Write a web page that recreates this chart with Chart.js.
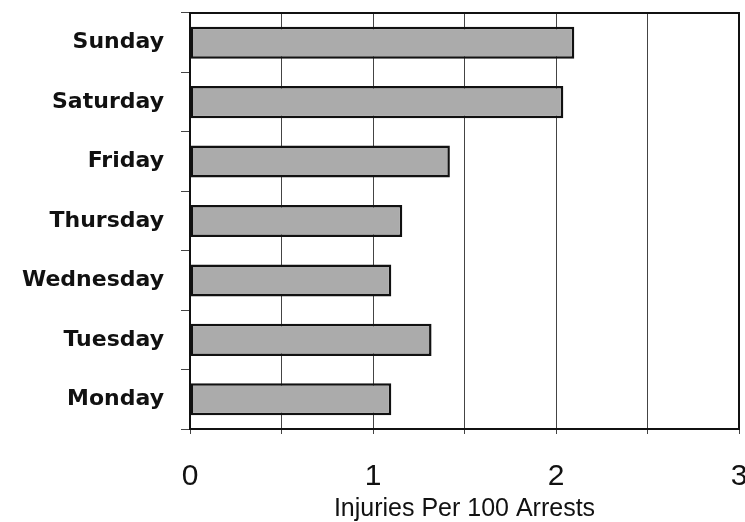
<!DOCTYPE html>
<html>
<head>
<meta charset="utf-8">
<script src="https://cdn.jsdelivr.net/npm/chart.js@4"></script>
<style>
  html, body { margin: 0; padding: 0; background: #fff; }
  #wrap { width: 745px; height: 522px; }
</style>
</head>
<body>
<div id="wrap"><canvas id="bars"></canvas></div>
<script>
// days, top to bottom as in the picture
const days = ['Sunday', 'Saturday', 'Friday', 'Thursday', 'Wednesday', 'Tuesday', 'Monday'];
const injuriesPer100 = [2.10, 2.04, 1.42, 1.16, 1.10, 1.32, 1.10];
const xTickLabels = ['0', '1', '2', '3'];

// plot frame (top and right sides)
const frame = {
  id: 'frame',
  afterDatasetsDraw(chart) {
    const a = chart.chartArea;
    const ctx = chart.ctx;
    ctx.save();
    ctx.strokeStyle = '#111';
    ctx.lineWidth = 2;
    ctx.strokeRect(a.left, a.top, a.right - a.left, a.bottom - a.top);
    ctx.restore();
  }
};

const barConfig = {
  type: 'bar',
  data: {
    labels: days,
    datasets: [
      {
        data: injuriesPer100,
        backgroundColor: '#ababab',
        borderColor: '#111',
        borderWidth: 2.5,
        borderSkipped: false,
        barPercentage: 0.54,
        categoryPercentage: 1,
      },
    ],
  },
  options: {
    indexAxis: 'y',
    responsive: true,
    maintainAspectRatio: false,
    animation: false,
    layout: { padding: { top: 13, right: 6, bottom: 0, left: 0 } },
    plugins: {
      legend: { display: false },
      tooltip: { enabled: false },
    },
    scales: {
      x: {
        min: 0,
        max: 3,
        ticks: {
          stepSize: 0.5,
          autoSkip: false,
          maxRotation: 0,
          padding: 25,
          color: '#111',
          font: { family: '"Liberation Sans", Arial, sans-serif', size: 30 },
          callback: (v) => Number.isInteger(v) ? xTickLabels[v] : '',
        },
        grid: { color: '#444', lineWidth: 1, tickLength: 5 },
        border: { color: '#111', width: 2 },
        title: {
          display: true,
          text: 'Injuries Per 100 Arrests',
          color: '#111',
          font: { family: '"Liberation Sans", Arial, sans-serif', size: 25, lineHeight: 1.0 },
          padding: { top: 0, bottom: 0 },
        },
        afterFit(scale) {
          scale.height = 93;
          scale.paddingLeft = 0;
          scale.paddingRight = 0;
        },
      },
      y: {
        ticks: {
          padding: 17,
          color: '#111',
          font: { family: '"DejaVu Sans", sans-serif', size: 22, weight: 'bold' },
        },
        grid: { offset: true, drawOnChartArea: false, color: '#444', tickLength: 9 },
        border: { color: '#111', width: 2 },
        afterFit(scale) {
          scale.width = 190;
          scale.paddingTop = 0;
          scale.paddingBottom = 0;
        },
      },
    },
  },
  plugins: [frame],
};

const barCtx = document.getElementById('bars');
window.myBars = new Chart(barCtx, barConfig);
</script>
</body>
</html>
